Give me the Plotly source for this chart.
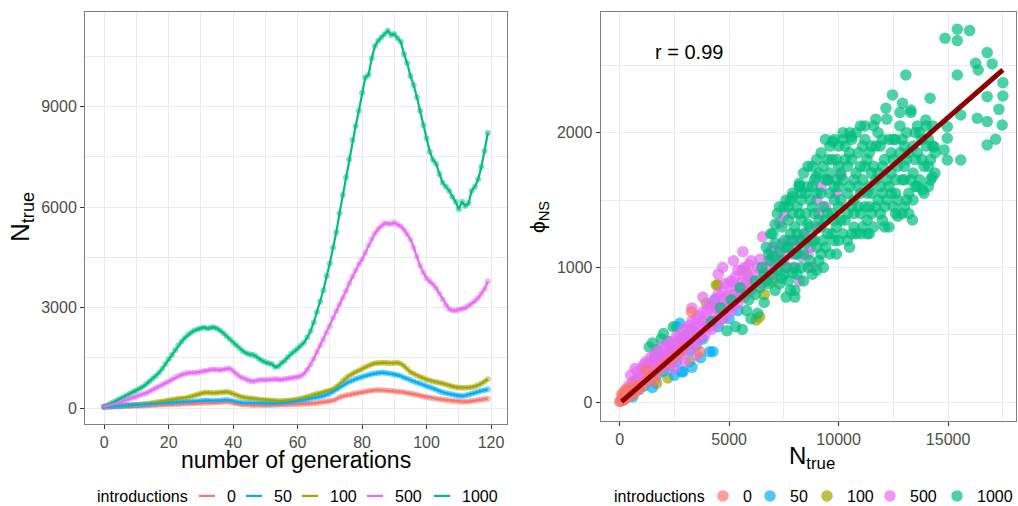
import plotly.graph_objects as go

W, H = 1018, 506

# ---------------- data: left panel (mean population size per generation) ----------------
generations = list(range(120))

n_true_0 = [40, 45, 50, 55, 55, 60, 65, 65, 70, 75,
            75, 80, 80, 85, 90, 95, 100, 105, 110, 115,
            120, 125, 125, 130, 135, 140, 145, 150, 150, 155,
            160, 165, 170, 165, 170, 175, 185, 195, 200, 190,
            165, 140, 125, 115, 110, 105, 100, 100, 95, 95,
            95, 100, 100, 105, 105, 110, 110, 115, 120, 125,
            125, 130, 135, 140, 145, 150, 160, 175, 190, 200,
            215, 240, 270, 330, 360, 385, 400, 420, 440, 460,
            480, 500, 515, 525, 540, 545, 540, 535, 525, 520,
            505, 495, 490, 475, 455, 440, 420, 400, 375, 350,
            330, 310, 300, 285, 270, 260, 250, 235, 220, 210,
            200, 195, 195, 200, 215, 230, 245, 260, 270, 285]

n_true_50 = [40, 50, 55, 60, 65, 70, 75, 80, 85, 90,
             95, 100, 105, 110, 115, 120, 130, 140, 145, 150,
             155, 160, 165, 170, 175, 180, 185, 190, 200, 210,
             220, 230, 235, 225, 220, 225, 230, 240, 245, 235,
             210, 185, 170, 160, 155, 150, 145, 140, 140, 135,
             135, 135, 140, 140, 145, 150, 160, 170, 185, 200,
             215, 235, 255, 275, 295, 310, 330, 345, 370, 400,
             440, 500, 560, 620, 690, 740, 790, 830, 870, 905,
             940, 965, 990, 1020, 1040, 1055, 1065, 1060, 1045, 1030,
             1010, 990, 960, 920, 880, 840, 800, 760, 740, 700,
             660, 630, 590, 555, 510, 480, 450, 430, 410, 385,
             370, 365, 380, 400, 430, 460, 490, 520, 540, 570]

n_true_100 = [40, 50, 55, 60, 65, 70, 75, 80, 90, 95,
              100, 110, 120, 130, 145, 160, 175, 190, 205, 220,
              240, 255, 265, 280, 290, 300, 320, 350, 380, 410,
              440, 465, 470, 460, 455, 465, 470, 480, 490, 470,
              430, 390, 350, 330, 310, 300, 290, 275, 260, 250,
              245, 240, 230, 225, 220, 220, 225, 230, 240, 255,
              270, 290, 310, 340, 370, 400, 430, 450, 480, 505,
              530, 570, 640, 720, 820, 900, 970, 1030, 1080, 1130,
              1180, 1230, 1270, 1310, 1340, 1350, 1360, 1360, 1350, 1345,
              1350, 1360, 1330, 1260, 1170, 1080, 1030, 980, 940, 900,
              860, 830, 800, 780, 760, 740, 710, 680, 650, 630,
              620, 615, 615, 620, 630, 650, 690, 740, 800, 865]

n_true_500 = [50, 70, 95, 120, 150, 180, 215, 250, 285, 320,
              355, 385, 415, 450, 500, 550, 600, 650, 700, 750,
              800, 860, 910, 960, 1000, 1030, 1050, 1060, 1060, 1070,
              1090, 1110, 1130, 1150, 1160, 1150, 1140, 1160, 1180, 1190,
              1110, 1020, 950, 900, 860, 820, 800, 820, 840, 850,
              840, 850, 860, 870, 860, 850, 870, 890, 900, 910,
              930, 960, 1030, 1150, 1300, 1480, 1680, 1870, 2050, 2250,
              2450, 2700, 2900, 3100, 3300, 3500, 3720, 3930, 4120, 4300,
              4450, 4650, 4870, 5050, 5220, 5350, 5440, 5520, 5510, 5500,
              5540, 5480, 5430, 5330, 5200, 5040, 4800, 4520, 4250, 4050,
              3880, 3780, 3700, 3580, 3420, 3250, 3080, 2960, 2920, 2910,
              2950, 2960, 2990, 3060, 3120, 3200, 3290, 3420, 3560, 3780]

n_true_1000 = [50, 90, 140, 190, 240, 290, 330, 380, 430, 490,
               540, 590, 640, 720, 800, 880, 960, 1060, 1180, 1320,
               1460, 1600, 1740, 1880, 1990, 2100, 2190, 2260, 2320, 2360,
               2390, 2410, 2380, 2400, 2420, 2380, 2320, 2240, 2150, 2060,
               1960, 1880, 1790, 1710, 1650, 1610, 1600, 1560, 1480, 1420,
               1370, 1340, 1320, 1230, 1250, 1350, 1420, 1530, 1630, 1700,
               1780, 1870, 1960, 2120, 2300, 2560, 2870, 3180, 3520, 3950,
               4320, 4800, 5250, 5819, 6365, 6893, 7430, 8007, 8424, 8881,
               9418, 9878, 9946, 10444, 10812, 10970, 11071, 11170, 11268, 11140,
               11170, 11041, 10940, 10573, 10295, 9916, 9648, 9281, 8881, 8454,
               8057, 7657, 7410, 7290, 6992, 6733, 6614, 6494, 6315, 6166,
               5939, 6166, 6037, 6118, 6494, 6614, 6834, 7210, 7687, 8224]

# ---------------- data: right panel (N_true, phi_NS) points ----------------
pts_0 = [(0, 5), (50, 10), (100, 20), (150, 15), (200, 30), (250, 25), (300, 45), (350, 35),
         (400, 60), (450, 50), (500, 70), (550, 55), (600, 85), (700, 75), (800, 110), (900, 95),
         (1000, 130), (1100, 140), (1300, 170), (1500, 200), (1700, 230), (2000, 280), (2300, 310),
         (2600, 350), (2900, 400), (3278, 672), (3657, 375), (100, 60), (300, 80), (200, 70),
         (1200, 240), (1600, 160), (150, 40), (400, 100), (700, 130), (250, 90)]

pts_50 = [(200, 20), (500, 50), (600, 40), (800, 90), (1100, 120), (1400, 160), (1500, 110),
          (1700, 200), (2000, 230), (2300, 270), (2600, 300), (2746, 586), (2823, 227), (2897, 227),
          (3200, 380), (3300, 260), (3500, 420), (3800, 470), (4112, 375), (4262, 375), (4340, 759),
          (4500, 560), (5000, 620), (5400, 680), (1900, 330), (3000, 500), (2500, 200), (3700, 330)]

pts_100 = [(300, 40), (600, 80), (900, 100), (1200, 170), (1500, 190), (1685, 141), (2000, 260),
           (2500, 330), (2800, 380), (3000, 420), (3200, 300), (3500, 480), (3960, 734), (4000, 560),
           (4417, 870), (4490, 870), (5000, 700), (5500, 780), (5783, 969), (6000, 850), (6238, 610),
           (6389, 635), (6600, 800), (7000, 900), (2200, 180), (4700, 620)]

pts_500 = [(400, 120), (500, 200), (600, 90), (700, 160), (800, 230), (900, 120), (1000, 190),
           (1100, 280), (1200, 150), (1300, 230), (1400, 330), (1500, 200), (1600, 280), (1700, 380),
           (1800, 240), (1900, 320), (2000, 420), (2100, 270), (2200, 360), (2300, 450), (2400, 300),
           (2500, 400), (2600, 490), (2700, 340), (2800, 440), (2900, 540), (3000, 380), (3100, 480),
           (3200, 570), (3300, 420), (3400, 520), (3500, 620), (3600, 460), (3700, 560), (3800, 670),
           (3900, 500), (4000, 600), (4100, 720), (4200, 540), (4300, 650), (4400, 770), (4500, 590),
           (4600, 700), (4700, 820), (4800, 630), (4900, 750), (5000, 880), (5100, 680), (5200, 800),
           (5300, 930), (5400, 730), (5500, 850), (5600, 980), (5700, 780), (5800, 900), (5900, 1020),
           (6000, 830), (6200, 950), (6400, 1060), (6500, 880), (6700, 1000), (6900, 1120), (7000, 930),
           (7200, 1050), (7400, 1170), (7600, 1000), (7800, 1100), (8000, 1200), (8300, 1080),
           (8500, 1250), (8700, 1150), (9000, 1300), (9200, 1600), (9500, 1650), (9900, 1550),
           (10100, 1680), (9400, 1450), (9000, 1500), (7500, 1380), (7300, 1330), (4700, 1000),
           (4500, 950), (5200, 1050), (3800, 780), (3300, 700), (5630, 1117), (6530, 1228),
           (8200, 900), (8800, 1000), (2500, 250), (3000, 300), (3500, 350), (1200, 300), (700, 250),
           (600, 150), (800, 170), (1000, 250), (1100, 200), (1300, 280), (1500, 260), (1600, 350),
           (1800, 300), (2000, 340), (2100, 400), (2200, 300), (2400, 420), (2500, 350), (2600, 410),
           (2700, 480), (2800, 380), (3000, 460), (3100, 540), (3200, 450), (3300, 600), (3400, 460),
           (3500, 560), (3600, 640), (3700, 500), (3800, 600), (4000, 680), (4100, 560), (4200, 720),
           (4300, 600), (4400, 700), (4500, 800), (4600, 640), (4700, 760), (4800, 880), (4900, 700),
           (5000, 800), (5100, 900), (5200, 740), (5300, 860), (5400, 980), (5500, 800), (5600, 900),
           (5700, 1000), (5800, 820), (5900, 930), (6000, 1050), (6100, 900), (6300, 1000),
           (6600, 960), (6800, 1050), (7000, 1150), (7100, 1000), (7300, 1100), (7500, 1050),
           (7700, 1200), (7900, 1000), (8100, 1150), (8400, 1200), (8600, 1100), (9100, 1400)]

pts_1000_early = [(1350, 410), (1500, 440), (1700, 390), (1900, 470), (2000, 510), (2200, 450),
                  (2450, 560), (2600, 560), (2300, 380), (1600, 330), (2800, 470), (3000, 430),
                  (3300, 540), (3700, 480)]

pts_1000 = [(4200, 600), (4900, 530), (5300, 560), (5600, 540), (4600, 700), (5100, 760), (5800, 680),
            (6000, 620), (6300, 660), (5500, 850), (5900, 760), (6200, 800), (6600, 740), (6700, 900),
            (6500, 1000), (6800, 1100), (7000, 950), (7000, 1250), (7200, 1400), (7300, 880),
            (7400, 1050), (7500, 1200), (7600, 780), (7700, 1350), (7800, 1500), (7900, 960),
            (8000, 1100), (8000, 830), (8100, 1250), (8200, 1600), (8200, 1400), (8300, 1000),
            (8400, 900), (8500, 1180), (8500, 1550), (8600, 1320), (8700, 1050), (8800, 1450),
            (8900, 1650), (8900, 1200), (9000, 980), (9100, 1350), (6900, 1050), (7100, 830),
            (7600, 1000), (8000, 780), (7800, 830), (7600, 1500), (8210, 1625), (8970, 1674),
            (9200, 1550), (9300, 1750), (9400, 1150), (9500, 1400), (9600, 1900), (9700, 1250),
            (9800, 1600), (9900, 1800), (10000, 1450), (10000, 1200), (10100, 1700), (10200, 1950),
            (10300, 1350), (10400, 1550), (10500, 1850), (10600, 1250), (10700, 1650), (10800, 2000),
            (10900, 1450), (11000, 1750), (11100, 1300), (11200, 1950), (11300, 1550), (11400, 1850),
            (11500, 1400), (11600, 2050), (11700, 1650), (11800, 1500), (11900, 1900), (12000, 1750),
            (9500, 1650), (10300, 1800), (11000, 1550), (11500, 1700), (9800, 1350), (10600, 1450),
            (12100, 1450), (9727, 1933), (9500, 1800), (10000, 1900), (10500, 2000), (11000, 2050),
            (11700, 2100), (11400, 1250), (11600, 1300), (10800, 1250), (10500, 1150), (9900, 1100),
            (9300, 1000), (8800, 950), (11300, 1350),
            (12200, 2100), (12300, 1600), (12400, 1850), (12500, 1950), (12600, 1550), (12700, 1750),
            (12800, 2050), (12900, 1650), (13000, 1900), (13100, 1800), (13200, 1550), (13300, 2150),
            (13400, 1700), (13500, 2000), (13600, 1850), (13700, 1650), (13800, 1950), (13900, 1750),
            (14000, 2050), (14100, 1600), (14300, 1900), (14400, 1700), (14200, 1800), (12000, 1350),
            (12700, 1380), (13000, 1450), (13200, 1400), (12500, 1450), (12300, 1300), (13370, 1352),
            (13826, 1575), (14280, 1673),
            (6200, 900), (6400, 850), (6600, 950), (6800, 880), (7000, 1080), (7100, 1180), (7200, 980),
            (7300, 1120), (7400, 1300), (7500, 950), (7500, 1450), (7700, 1150), (7700, 900),
            (7800, 1250), (7900, 1400), (8000, 1300), (8000, 1000), (8100, 1450), (8100, 1100),
            (8200, 1200), (8300, 1350), (8300, 1500), (8400, 1100), (8400, 1250), (8500, 1400),
            (8600, 1000), (8600, 1600), (8700, 1300), (8700, 1500), (8800, 1200), (8900, 1400),
            (9000, 1550), (9000, 1150), (9100, 1700), (9100, 1050), (9200, 1300), (9300, 1450),
            (9300, 1200), (9400, 1650), (9400, 1350), (9500, 1250), (9600, 1550), (9600, 1700),
            (9700, 1400), (9700, 1800), (9800, 1500), (9900, 1300), (9900, 1650), (10000, 1600),
            (10000, 1750), (10100, 1350), (10100, 1500), (10200, 1650), (10200, 1250), (10300, 1900),
            (10400, 1400), (10400, 1750), (10500, 1600), (10600, 1800), (10600, 1950), (10700, 1400),
            (10700, 1500), (10800, 1700), (10900, 1850), (10900, 1600), (11000, 1400), (11100, 1650),
            (11100, 1900), (11200, 1450), (11200, 1750), (11300, 1800), (11400, 1600), (11400, 1450),
            (11500, 1900), (11500, 1550), (11600, 1750), (11700, 1450), (11700, 1900), (11800, 1700),
            (11800, 2000), (11900, 1600), (12000, 1550), (12000, 1950), (12100, 1800), (12200, 1650),
            (12200, 1500), (12300, 1950), (12400, 1700), (12400, 1550), (12500, 1800), (12600, 1950),
            (12600, 1650), (12700, 1500), (12800, 1850), (12900, 1950), (13000, 1650), (13000, 1750),
            (13100, 2000), (13200, 1850), (13300, 1650), (13400, 1900), (13500, 1800), (13600, 1600),
            (13700, 2000), (13800, 1800), (14000, 1900), (14100, 1750), (14200, 1650), (14300, 2050),
            (6700, 1150), (6900, 1250), (7100, 1320), (7300, 1450), (7400, 920), (7600, 1150),
            (7700, 1450), (7900, 1550), (7900, 1200), (8100, 950), (8300, 1550), (8400, 1700),
            (8600, 1750), (8800, 1600), (8800, 1750), (9000, 1800), (9200, 1850), (9200, 1100),
            (9400, 1950), (9600, 1100), (9800, 1950), (9800, 1200), (10200, 2000), (10400, 1200),
            (10700, 1300), (11000, 1250), (11200, 2050), (11300, 1250), (11900, 1400), (12100, 1300),
            (12600, 1400), (12900, 1400), (12800, 2150), (13100, 1500), (13400, 1500), (13500, 1600),
            (13600, 2050), (13900, 1550), (14100, 1950), (14400, 1850),
            (14860, 2700), (15420, 2767), (15980, 2757), (15420, 2683), (16785, 2594), (16257, 2515),
            (17013, 2510), (16375, 2465), (15420, 2428), (17500, 2371), (16785, 2267), (17500, 2272),
            (17318, 2173), (15574, 2131), (16330, 2107), (16785, 2082), (17468, 2057), (16785, 1909),
            (17168, 1951), (14964, 2044), (14964, 1958), (14814, 1872), (14964, 1797), (15574, 1797),
            (13070, 2428), (14177, 2255), (12460, 2280), (12160, 2181), (12915, 2218), (13297, 2168),
            (10565, 1970), (8210, 1605), (7905, 1525), (13980, 2094), (14358, 1896)]

lm_n = [90, 17500]
lm_phi = [5, 2465]

levels = ["0", "50", "100", "500", "1000"]
colors = {"0": "#F8766D", "50": "#00B0F6", "100": "#A3A500", "500": "#E76BF3", "1000": "#00BF7D"}
series = {"0": n_true_0, "50": n_true_50, "100": n_true_100, "500": n_true_500, "1000": n_true_1000}
draw_order = ["0", "100", "1000", "50", "500"]

# one legend box per entry so the entries sit at ggplot-like spacing (label start, px)
left_legend = {"0": "legend", "50": "legend3", "100": "legend4", "500": "legend5", "1000": "legend6"}
right_legend = {"0": "legend2", "50": "legend7", "100": "legend8", "500": "legend9", "1000": "legend10"}
left_text_px = {"0": 227, "50": 274, "100": 330, "500": 395, "1000": 462}
right_text_px = {"0": 743, "50": 790, "100": 847, "500": 910, "1000": 977}

FONT = "Liberation Sans, Arial, sans-serif"
fig = go.Figure()

# left panel: points then lines
for lv in draw_order:
    fig.add_trace(go.Scatter(x=generations, y=series[lv], mode="markers",
                             marker=dict(color=colors[lv], size=6, opacity=0.5, line=dict(width=0)),
                             showlegend=False, xaxis="x", yaxis="y", hoverinfo="skip"))
for lv in draw_order:
    fig.add_trace(go.Scatter(x=generations, y=series[lv], mode="lines",
                             line=dict(color=colors[lv], width=2.2),
                             name=lv, showlegend=False, xaxis="x", yaxis="y"))
# legend keys for the left panel (short line glyphs, like ggplot's key)
for lv in levels:
    fig.add_trace(go.Scatter(x=[None], y=[None], mode="markers", name=lv, legend=left_legend[lv],
                             marker=dict(symbol="line-ew", size=11.5, color=colors[lv],
                                         line=dict(color=colors[lv], width=2.2)),
                             xaxis="x", yaxis="y", hoverinfo="skip"))

# right panel scatter
def add_pts(pts, lv, show):
    fig.add_trace(go.Scatter(x=[p[0] for p in pts], y=[p[1] for p in pts], mode="markers",
                             marker=dict(color=colors[lv], size=11.5, opacity=0.7, line=dict(width=0)),
                             name=lv, showlegend=show, legend=right_legend[lv],
                             legendgroup="r" + lv, xaxis="x2", yaxis="y2"))

add_pts(pts_1000_early, "1000", False)
add_pts(pts_100, "100", True)
add_pts(pts_50, "50", True)
add_pts(pts_500, "500", True)
add_pts(pts_1000, "1000", True)
add_pts(pts_0, "0", True)

fig.add_trace(go.Scatter(x=lm_n, y=lm_phi, mode="lines", line=dict(color="#8B0000", width=5),
                         showlegend=False, xaxis="x2", yaxis="y2"))

grid = "#EBEBEB"
border = "#7F7F7F"
tickfont = dict(family=FONT, size=16, color="#4D4D4D")

def ax(domain, rng, dtick, mdtick, anchor):
    return dict(domain=domain, range=rng, dtick=dtick, tick0=0, tickformat="d", showgrid=True,
                gridcolor=grid, gridwidth=1.1, zeroline=False, showline=True, mirror=True,
                linecolor=border, linewidth=1, ticks="outside", ticklen=4, tickcolor="#333333",
                tickwidth=1, tickfont=tickfont, anchor=anchor, automargin=False,
                minor=dict(dtick=mdtick, tick0=0, showgrid=True, gridcolor=grid, gridwidth=0.55, ticks=""))

LEG_Y = 1 - 496 / H

def leg(x_px):
    return dict(orientation="h", x=x_px / W, xanchor="left", y=LEG_Y, yanchor="middle",
                font=dict(size=16, family=FONT, color="black"), bgcolor="rgba(0,0,0,0)", itemwidth=30)

layout_legends = {}
for lv, px in left_text_px.items():
    layout_legends[left_legend[lv]] = leg(px - 40)
for lv, px in right_text_px.items():
    layout_legends[right_legend[lv]] = leg(px - 40)

fig.update_layout(
    width=W, height=H, margin=dict(l=0, r=0, t=0, b=0, autoexpand=False),
    paper_bgcolor="white", plot_bgcolor="white",
    font=dict(family=FONT, size=16, color="black"),
    xaxis=ax([85 / W, 507 / W], [-5.95, 124.95], 20, 10, "y"),
    yaxis=ax([1 - 424 / H, 1 - 12 / H], [-470, 11826], 3000, 1500, "x"),
    xaxis2=ax([600.7 / W, 1016 / W], [-865, 18100], 5000, 2500, "y2"),
    yaxis2=ax([1 - 420.7 / H, 1 - 12 / H], [-137, 2895], 1000, 500, "x2"),
    annotations=[
        dict(text="introductions", x=95 / W, y=LEG_Y, xref="paper", yref="paper", showarrow=False,
             font=dict(size=16, family=FONT, color="black"), xanchor="left", yanchor="middle"),
        dict(text="introductions", x=612 / W, y=LEG_Y, xref="paper", yref="paper", showarrow=False,
             font=dict(size=16, family=FONT, color="black"), xanchor="left", yanchor="middle"),
        dict(text="number of generations", x=296 / W, y=1 - 460 / H, xref="paper", yref="paper",
             showarrow=False, font=dict(size=23, family=FONT, color="black"),
             xanchor="center", yanchor="middle"),
        dict(text="N<sub>true</sub>", x=22 / W, y=1 - 217 / H, xref="paper", yref="paper",
             showarrow=False, textangle=-90, font=dict(size=26, family=FONT, color="black"),
             xanchor="center", yanchor="middle"),
        dict(text="N<sub>true</sub>", x=812 / W, y=1 - 457 / H, xref="paper", yref="paper",
             showarrow=False, font=dict(size=24, family=FONT, color="black"),
             xanchor="center", yanchor="middle"),
        dict(text="ϕ<sub>NS</sub>", x=539 / W, y=1 - 217 / H, xref="paper", yref="paper",
             showarrow=False, textangle=-90, font=dict(size=21, family=FONT, color="black"),
             xanchor="center", yanchor="middle"),
        dict(text="r = 0.99", x=3150, y=2600, xref="x2", yref="y2", showarrow=False,
             font=dict(size=20, family=FONT, color="black"), xanchor="center", yanchor="middle"),
    ],
)
fig.update_layout(**layout_legends)

fig.write_html("out.html")
